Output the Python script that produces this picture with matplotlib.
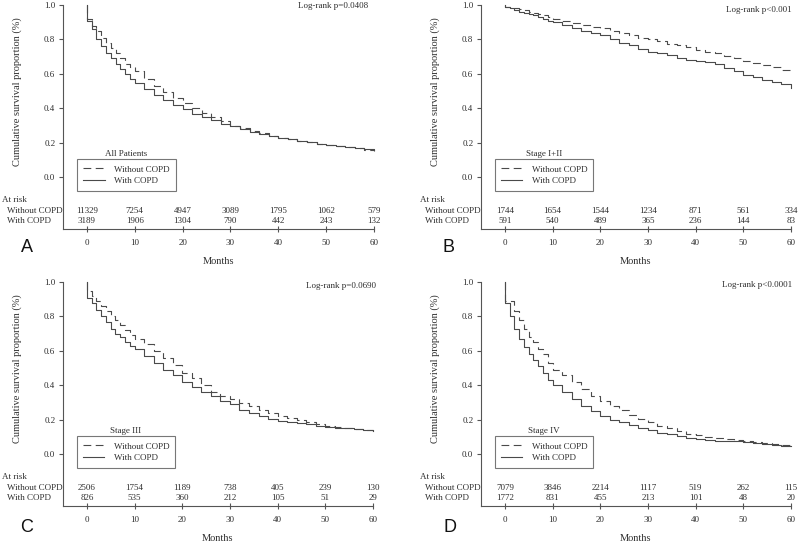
import matplotlib
matplotlib.use("Agg")
import matplotlib.pyplot as plt
from matplotlib.lines import Line2D

plt.rcParams["font.family"] = ["Liberation Serif", "DejaVu Serif"]

# =====================================================
# DATA
# =====================================================

months = [0, 0, 1, 2, 3, 4, 5, 6, 7, 8, 9, 10, 12, 14, 16, 18, 20, 22, 24,
          26, 28, 30, 32, 34, 36, 38, 40, 42, 44, 46, 48, 50, 52, 54, 56, 58, 60]

all_without = [1.0, 0.92, 0.88, 0.85, 0.81, 0.78, 0.75, 0.72, 0.69, 0.66, 0.64, 0.615,
               0.57, 0.53, 0.495, 0.46, 0.43, 0.40, 0.375, 0.35, 0.325, 0.30, 0.285,
               0.27, 0.255, 0.24, 0.23, 0.22, 0.21, 0.205, 0.195, 0.19, 0.18, 0.175,
               0.17, 0.16, 0.155]
all_with = [1.0, 0.91, 0.86, 0.80, 0.76, 0.72, 0.69, 0.66, 0.63, 0.60, 0.57, 0.55,
            0.51, 0.48, 0.45, 0.42, 0.395, 0.37, 0.35, 0.33, 0.31, 0.295, 0.28, 0.265,
            0.25, 0.24, 0.23, 0.22, 0.21, 0.205, 0.195, 0.19, 0.18, 0.175, 0.17, 0.165,
            0.16]

early_without = [1.0, 0.99, 0.985, 0.98, 0.975, 0.97, 0.96, 0.955, 0.95, 0.94, 0.93,
                 0.92, 0.91, 0.895, 0.885, 0.875, 0.865, 0.85, 0.84, 0.825, 0.81, 0.80,
                 0.79, 0.775, 0.765, 0.755, 0.74, 0.73, 0.72, 0.705, 0.69, 0.675, 0.665,
                 0.65, 0.64, 0.625, 0.615]
early_with = [1.0, 0.99, 0.98, 0.97, 0.96, 0.955, 0.945, 0.94, 0.93, 0.92, 0.91, 0.90,
              0.885, 0.865, 0.85, 0.84, 0.825, 0.80, 0.78, 0.77, 0.745, 0.73, 0.72, 0.71,
              0.695, 0.68, 0.675, 0.67, 0.655, 0.635, 0.615, 0.595, 0.585, 0.565, 0.555,
              0.54, 0.52]

stage3_without = [1.0, 0.95, 0.92, 0.89, 0.86, 0.83, 0.80, 0.78, 0.75, 0.72, 0.69, 0.67,
                  0.64, 0.60, 0.56, 0.52, 0.47, 0.44, 0.40, 0.36, 0.34, 0.32, 0.30, 0.28,
                  0.26, 0.24, 0.22, 0.21, 0.20, 0.19, 0.175, 0.165, 0.16, 0.155, 0.145,
                  0.14, 0.135]
stage3_with = [1.0, 0.91, 0.88, 0.84, 0.80, 0.77, 0.73, 0.70, 0.68, 0.65, 0.63, 0.61,
               0.57, 0.53, 0.49, 0.46, 0.42, 0.39, 0.36, 0.34, 0.31, 0.29, 0.26, 0.24,
               0.22, 0.205, 0.195, 0.185, 0.18, 0.175, 0.165, 0.16, 0.155, 0.15, 0.145,
               0.14, 0.135]

stage4_without = [1.0, 0.89, 0.89, 0.83, 0.78, 0.73, 0.68, 0.65, 0.61, 0.58, 0.53, 0.49,
                  0.46, 0.42, 0.38, 0.34, 0.31, 0.28, 0.255, 0.23, 0.205, 0.185, 0.165,
                  0.15, 0.135, 0.12, 0.11, 0.10, 0.095, 0.09, 0.085, 0.075, 0.07, 0.065,
                  0.06, 0.055, 0.05]
stage4_with = [1.0, 0.88, 0.80, 0.73, 0.67, 0.62, 0.58, 0.55, 0.51, 0.47, 0.43, 0.40,
               0.36, 0.32, 0.28, 0.25, 0.225, 0.20, 0.185, 0.17, 0.155, 0.14, 0.125,
               0.115, 0.105, 0.095, 0.09, 0.085, 0.08, 0.08, 0.075, 0.07, 0.065, 0.06,
               0.055, 0.05, 0.05]

risk_months = [0, 10, 20, 30, 40, 50, 60]
risk_all = ([11329, 7254, 4947, 3089, 1795, 1062, 579],
            [3189, 1906, 1304, 790, 442, 243, 132])
risk_early = ([1744, 1654, 1544, 1234, 871, 561, 334],
              [591, 540, 489, 365, 236, 144, 83])
risk_stage3 = ([2506, 1754, 1189, 738, 405, 239, 130],
               [826, 535, 360, 212, 105, 51, 29])
risk_stage4 = ([7079, 3846, 2214, 1117, 519, 262, 115],
               [1772, 831, 455, 213, 101, 48, 20])

panel_titles = ["All Patients", "Stage I+II", "Stage III", "Stage IV"]
panel_letters = ["A", "B", "C", "D"]
logrank_texts = ["Log-rank p=0.0408", "Log-rank p<0.001",
                 "Log-rank p=0.0690", "Log-rank p<0.0001"]

# =====================================================
# FIGURE
# =====================================================

W, H = 800, 543
fig = plt.figure(figsize=(W / 100, H / 100), dpi=100)

line_color = "#4a4a4a"
text_color = "#2e2e2e"
fs = 6.5

# panel boxes in pixels: left, right, top, bottom
boxes = [(63, 374, 5, 229), (481, 791, 5, 229),
         (63, 373, 282, 506), (481, 791, 282, 506)]
letter_pos = [(27, 247), (448, 247), (27, 528), (450, 528)]
logrank_pos = [(0.981, 0.995), (1.003, 0.978), (1.01, 0.982), (1.003, 0.985)]

curves = [(all_without, all_with), (early_without, early_with),
          (stage3_without, stage3_with), (stage4_without, stage4_with)]
risks = [risk_all, risk_early, risk_stage3, risk_stage4]

for i in range(4):
    left, right, top, bottom = boxes[i]
    ax = fig.add_axes([left / W, 1 - bottom / H,
                       (right - left) / W, (bottom - top) / H])

    surv_without, surv_with = curves[i]

    ax.step(months, surv_without, where="post", color=line_color,
            lw=0.8, dashes=(7, 4), clip_on=False)
    ax.step(months, surv_with, where="post", color=line_color,
            lw=0.8, clip_on=False)

    ax.set_xlim(-5, 60)
    ax.set_ylim(-0.30, 1.0)
    ax.set_xticks(risk_months)
    ax.set_yticks([0.0, 0.2, 0.4, 0.6, 0.8, 1.0])
    ax.set_yticklabels(["0.0", "0.2", "0.4", "0.6", "0.8", "1.0"])

    for side in ["top", "right"]:
        ax.spines[side].set_visible(False)
    for side in ["left", "bottom"]:
        ax.spines[side].set_color("#555555")
        ax.spines[side].set_linewidth(0.8)

    ax.tick_params(axis="x", direction="inout", length=4, width=0.8,
                   color="#555555", labelsize=fs, labelcolor=text_color, pad=5.3)
    ax.tick_params(axis="y", direction="out", length=3, width=0.8,
                   color="#555555", labelsize=fs, labelcolor=text_color, pad=2.5)

    ax.set_xlabel("Months", fontsize=7.5, color=text_color, labelpad=7)
    ax.set_ylabel("Cumulative survival proportion (%)", fontsize=7.5,
                  color=text_color)
    ax.yaxis.set_label_coords(-0.132, 0.615)

    # log-rank annotation
    lx, ly = logrank_pos[i]
    ax.text(lx, ly, logrank_texts[i], transform=ax.transAxes,
            ha="right", va="center", fontsize=fs, color=text_color)

    # legend with its title above the frame
    handles = [Line2D([], [], color=line_color, lw=0.8, dashes=(7, 4)),
               Line2D([], [], color=line_color, lw=0.8)]
    leg = ax.legend(handles, ["Without COPD", "With COPD"],
                    loc="upper left", bbox_to_anchor=(0.045, 0.313),
                    borderaxespad=0, fontsize=fs, frameon=True, fancybox=False,
                    edgecolor="#555555", handlelength=2.35, handletextpad=1.0,
                    labelspacing=0.35, borderpad=0.7)
    leg.get_frame().set_linewidth(0.8)
    for t in leg.get_texts():
        t.set_color(text_color)
    ax.text(0.203, 0.336, panel_titles[i], transform=ax.transAxes,
            ha="center", va="center", fontsize=fs, color=text_color)

    # number at risk table
    ax.text(-17.7, -0.134, "At risk", ha="left", va="center",
            fontsize=fs, color=text_color, clip_on=False)
    ax.text(-16.8, -0.198, "Without COPD", ha="left", va="center",
            fontsize=fs, color=text_color, clip_on=False)
    ax.text(-16.8, -0.254, "With COPD", ha="left", va="center",
            fontsize=fs, color=text_color, clip_on=False)
    n_without, n_with = risks[i]
    for m, a, b in zip(risk_months, n_without, n_with):
        ax.text(m, -0.198, str(a), ha="center", va="center",
                fontsize=fs, color=text_color, clip_on=False)
        ax.text(m, -0.254, str(b), ha="center", va="center",
                fontsize=fs, color=text_color, clip_on=False)

    px, py = letter_pos[i]
    fig.text(px / W, 1 - py / H, panel_letters[i], ha="center", va="center",
             fontsize=13, family="Liberation Sans", color="#111111")

fig.savefig("out.png", dpi=100)
